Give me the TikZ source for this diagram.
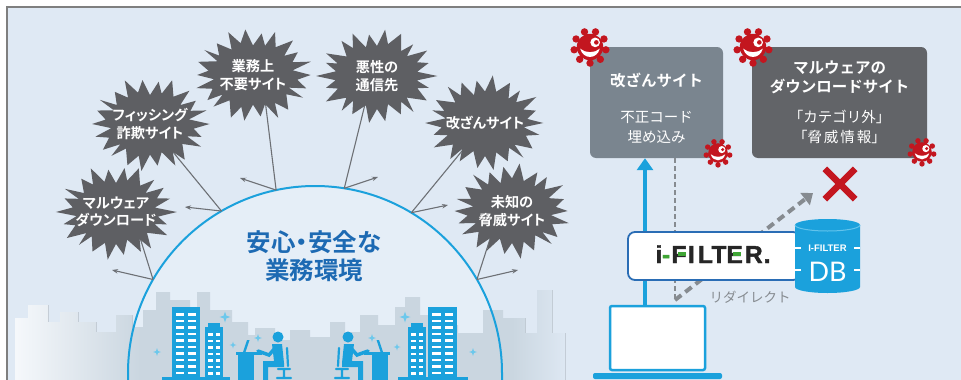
\documentclass[tikz,border=0pt]{standalone}
\usepackage{fontspec}
\setmainfont{Noto Sans CJK JP}[BoldFont={Noto Sans CJK JP Bold}]
\newfontfamily\jpp{Noto Sans CJK JP}[BoldFont={Noto Sans CJK JP Bold},RawFeature=+palt]
\newfontfamily\logofont{Liberation Sans}
\newfontfamily\logoheavy{Liberation Sans Bold}[FakeBold=1.6]
\newfontfamily\dbfont{Lato}
\usetikzlibrary{calc,arrows.meta}

\definecolor{bgc}{HTML}{DFE9F4}
\definecolor{domec}{HTML}{E5EEF7}
\definecolor{framec}{HTML}{7F7F7F}
\definecolor{burstc}{HTML}{5E5F63}
\definecolor{linec}{HTML}{6D7075}
\definecolor{cyanc}{HTML}{1BA1DC}
\definecolor{sparkc}{HTML}{6CC8EC}
\definecolor{safec}{HTML}{1D6AB3}
\definecolor{skyc}{HTML}{CAD6E0}
\definecolor{box1c}{HTML}{7A858F}
\definecolor{box2c}{HTML}{626468}
\definecolor{virusred}{HTML}{C3161F}
\definecolor{ifblue}{HTML}{2A6DB5}
\definecolor{ifgreen}{HTML}{3FA535}
\definecolor{dashc}{HTML}{868B90}
\definecolor{dbedge}{HTML}{62C3EC}

% jagged "explosion" outline with a text node at its centre
\newcommand\burstat[5]{%
  \fill[burstc] plot[samples at={0,...,43}, variable=\k]
    ({#2 + (mod(\k,2)==0 ? 57 : 42)*(1+0.07*sin(\k*97+#4))*cos(\k*360/44)},
     {#3 + (mod(\k,2)==0 ? 45 : 31)*(1+0.07*sin(\k*61+#4))*sin(\k*360/44)}) -- cycle;
  \node[bursttext] (#1) at (#2,#3) {#5};
}

\tikzset{
  virus/.pic={
    \foreach \a in {0,40,...,320}{
      \draw[virusred, line width=2.4] (0,0) -- (\a+10:14);
      \fill[virusred] (\a+10:14) circle (3.2);
    }
    \fill[virusred] (0,0) circle (11.5);
    \fill[white] (-8.5,1.5) .. controls (-6,11) and (6,11) .. (8.5,1.5)
                 .. controls (4,5.5) and (-4,5.5) .. cycle;
    \fill[white] (4.5,-4) circle (4.2);
    \fill[virusred] (5.5,-4) circle (2);
  },
  sparkle/.pic={
    \fill[sparkc] (0,-5) -- (1.2,-1.2) -- (5,0) -- (1.2,1.2) -- (0,5)
                  -- (-1.2,1.2) -- (-5,0) -- (-1.2,-1.2) -- cycle;
  },
  worker/.pic={
    % desk and laptop
    \fill[cyanc] (0,-26) rectangle (16,0);
    \fill[cyanc] (-2,-28) rectangle (24,-25);
    \fill[cyanc] (5,-28) -- (9,-40) -- (11.5,-40) -- (7.5,-28) -- cycle;
    % person
    \fill[cyanc] (40,-43) circle (5.5);
    \fill[cyanc] (34,-36) -- (44,-36) -- (46,-17) -- (46,-13) -- (30,-13)
                 -- (30,0) -- (25,0) -- (25,-19) -- (36,-19) -- cycle;
    \draw[cyanc, line width=3.5, line cap=round] (38,-33) -- (31,-25) -- (20,-29);
    % chair
    \draw[cyanc, line width=2.2, line cap=round]
      (49,-32) -- (50,-14) (40,-11) -- (52,-11) (46,-11) -- (46,-3)
      (39,-2) -- (53,-2);
  }
}

\begin{document}
\begin{tikzpicture}[x=1pt,y=-1pt,
  bursttext/.style={text=white, font=\jpp\bfseries\fontsize{14.2}{17.5}\selectfont,
    align=center, inner sep=0},
  hitline/.style={draw=linec, line width=1.1},
  bounce/.style={draw=linec, line width=1.1, -{Stealth[length=6pt,width=4.5pt]}},
  sitebox/.style={rounded corners=6, inner sep=0},
  titletext/.style={text=white, font=\bfseries\fontsize{15.5}{19}\selectfont,
    align=center, inner sep=0},
  subtext/.style={text=white, font=\fontsize{14.5}{20}\selectfont,
    align=center, inner sep=0},
  logoletter/.style={inner sep=0, anchor=base west, text=black!85,
    font=\logoheavy\fontsize{24.5}{24.5}\selectfont},
  upflow/.style={draw=cyanc, line width=3.5, -{Triangle[length=12pt,width=16pt]}},
  dashthin/.style={draw=dashc, line width=1.6, dash pattern=on 5pt off 3pt},
  dashthick/.style={draw=dashc, line width=4, dash pattern=on 8pt off 5pt,
    -{Triangle[length=10pt,width=15pt]}},
]
\useasboundingbox (0,0) rectangle (961,380);
\clip (0,0) rectangle (961,380);

% frame
\fill[white] (0,0) rectangle (961,380);
\fill[bgc] (8,8) rectangle (962,381);
\draw[framec, line width=2] (7,382) -- (7,7) -- (962,7);

% dome
\coordinate (dc) at (315,373);
\fill[domec] (128,383) -- ($(dc)+(180:187)$) arc[start angle=180, end angle=360, radius=187]
  -- (502,383) -- cycle;

% skyline
\begin{scope}
  \clip \foreach \a/\b/\t in {15/30/318, 28/48/305, 46/62/322, 60/78/312, 76/96/322,
      96/116/332, 116/132/315, 130/145/327, 143/158/310, 156/170/292, 168/190/300,
      190/205/318, 197/210/292, 208/232/310, 230/248/322, 246/262/335, 255/275/328,
      275/290/340, 290/310/330, 310/330/337, 330/345/322, 345/360/332, 360/378/315,
      378/395/325, 395/408/307, 405/420/297, 420/440/315, 440/458/325, 458/485/333,
      483/503/310, 503/525/318, 525/540/333, 537/552/290, 550/565/333, 15/565/345}
    { (\a,\t) rectangle (\b,383) };
  \fill[skyc] (10,280) rectangle (570,383);
  \fill[left color=white!75!bgc, right color=skyc] (10,280) rectangle (140,383);
  \fill[left color=skyc, right color=bgc] (512,280) rectangle (570,383);
\end{scope}

% dome outline
\draw[cyanc, line width=2] (128,383) -- ($(dc)+(180:187)$)
  arc[start angle=180, end angle=360, radius=187] -- (502,383);

% buildings
\foreach \bx/\bt/\bw in {172/307/28, 428/307/29}{
  \fill[cyanc] (\bx,\bt) rectangle (\bx+\bw,381);
  \foreach \r in {0,...,9}{
    \fill[white] (\bx+4,\bt+6+\r*6.5) rectangle (\bx+\bw/2-2,\bt+8.5+\r*6.5);
    \fill[white] (\bx+\bw/2+2,\bt+6+\r*6.5) rectangle (\bx+\bw-4,\bt+8.5+\r*6.5);
  }
}
\foreach \bx in {205,408}{
  \fill[cyanc] (\bx,327) rectangle (\bx+18,381);
  \fill[cyanc] (\bx+3,323) rectangle (\bx+15,328);
  \foreach \r in {0,...,6}{
    \fill[white] (\bx+3,333+\r*6.5) rectangle (\bx+7.5,335.5+\r*6.5);
    \fill[white] (\bx+10.5,333+\r*6.5) rectangle (\bx+15,335.5+\r*6.5);
  }
}
\fill[cyanc] (162,377) rectangle (230,381);
\fill[cyanc] (398,377) rectangle (468,381);

% people at desks
\pic (w1) at (238,380) {worker};
\pic[xscale=-1] (w2) at (388,380) {worker};

% sparkles
\foreach \sx/\sy/\ss in {225/317/1.1, 157/352/0.8, 233/345/0.7, 258/338/0.8,
    405/317/1.1, 473/352/0.8, 372/338/0.8, 397/347/0.7}
  \pic[scale=\ss] at (\sx,\sy) {sparkle};

% centre message
\node[text=safec, font=\jpp\bfseries\fontsize{24.5}{28.5}\selectfont, align=center, inner sep=0]
  (safe) at (314,256) {安心・安全な\\業務環境};

% points where threats hit the dome
\coordinate (h1) at ($(dc)+(258:187)$);
\coordinate (h2) at ($(dc)+(240:187)$);
\coordinate (h3) at ($(dc)+(210:187)$);
\coordinate (h4) at ($(dc)+(279:187)$);
\coordinate (h5) at ($(dc)+(301:187)$);
\coordinate (h6) at ($(dc)+(330:187)$);
\coordinate (r1) at (240,178);
\coordinate (r2) at (185,207);
\coordinate (r3) at (112,270);
\coordinate (r4) at (378,177);
\coordinate (r5) at (448,205);
\coordinate (r6) at (518,270);

\node[inner sep=0] (b1) at (253,75) {};
\node[inner sep=0] (b2) at (150,124) {};
\node[inner sep=0] (b3) at (116,212) {};
\node[inner sep=0] (b4) at (377,76) {};
\node[inner sep=0] (b5) at (485,123) {};
\node[inner sep=0] (b6) at (512,211) {};

\draw[hitline] ([xshift=9pt]b1.center) -- (h1);
\draw[hitline] (b2.center) -- (h2);
\draw[hitline] ([xshift=16pt]b3.center) -- (h3);
\draw[hitline] ([xshift=-5pt]b4.center) -- (h4);
\draw[hitline] (b5.center) -- (h5);
\draw[hitline] ([xshift=-13pt]b6.center) -- (h6);
\foreach \i in {1,...,6} \draw[bounce] (h\i) -- (r\i);

% threats
\burstat{t1}{253}{75}{10}{業務上\\不要サイト}
\burstat{t2}{150}{124}{40}{フィッシング\\詐欺サイト}
\burstat{t3}{116}{212}{75}{マルウェア\\ダウンロード}
\burstat{t4}{377}{76}{120}{悪性の\\通信先}
\burstat{t5}{485}{123}{160}{改ざんサイト}
\burstat{t6}{512}{211}{200}{未知の\\脅威サイト}

% ---------- right side ----------
\coordinate (ux) at (645,0);
\coordinate (dx) at (675,0);
\coordinate (rd) at (675,300);
\coordinate (xm) at (813,193);

\node[sitebox, fill=box1c, minimum width=133, minimum height=111] (site1) at (656.5,102.5) {};
\node[sitebox, fill=box2c, minimum width=175, minimum height=111] (site2) at (839.5,102.5) {};
\node[titletext] (s1t) at (656.5,80) {改ざんサイト};
\node[subtext] (s1s) at (656.5,127) {不正コード\\埋め込み};
\node[titletext] (s2t) at (839.5,77.5) {マルウェアの\\ダウンロードサイト};
\node[subtext] (s2s) at (839.5,127) {「カテゴリ外」\\「脅\hspace{2pt}威\hspace{2pt}情\hspace{2pt}報」};

\pic[scale=1.15] (v1) at (590,47) {virus};
\pic[scale=1.15] (v2) at (753,47) {virus};
\pic[scale=0.85] (v3) at (718,153) {virus};
\pic[scale=0.85] (v4) at (922,152) {virus};

\node[minimum size=30, inner sep=0] (xmark) at (840,184) {};
\draw[virusred, line width=6.5] (xmark.north west) -- (xmark.south east)
  (xmark.north east) -- (xmark.south west);

% laptop
\node[fill=white, draw=cyanc, line width=2.5, rounded corners=2, minimum width=95,
  minimum height=64, inner sep=0] (lap) at (657.5,338) {};
\node[fill=cyanc, rounded corners=2, minimum width=129, minimum height=6, inner sep=0]
  (lapb) at (657.5,376) {};

% traffic
\draw[upflow] (lap.north -| ux) -- (site1.south -| ux);
\draw[dashthin] (site1.south -| dx) -- (rd);
\draw[dashthick] (rd) -- (xm);

% filter with its logotype, set letter by letter
\node[fill=white, draw=ifblue, line width=1.8, rounded corners=7, minimum width=172,
  minimum height=48, inner sep=0] (ifilter) at (714,256) {};
\node[logoletter] (lg1) at (655.3,263) {i};
\node[logoletter, text=ifgreen] (lg2) at (661.8,263) {-};
\node[logoletter] (lg3) at (671.3,263) {F};
\node[logoletter] (lg4) at (687.8,263) {I};
\node[logoletter] (lg5) at (697.8,263) {L};
\node[logoletter] (lg6) at (711.3,263) {T};
\node[logoletter] (lg7) at (726.3,263) {E};
\node[logoletter] (lg8) at (744.8,263) {R};
\node[logoletter] (lg9) at (763.5,263) {.};
\fill[ifgreen] (678.3,251.6) rectangle (686.2,256.0);
\fill[ifgreen] (733.3,251.6) rectangle (741.4,256.0);

% database
\fill[cyanc] (860,225) arc[start angle=0, end angle=-180, x radius=32.5, y radius=6]
  -- (795,287) arc[start angle=180, end angle=0, x radius=32.5, y radius=6] -- cycle;
\draw[dbedge, line width=1] (795,225) arc[start angle=180, end angle=0, x radius=32.5, y radius=6];
\foreach \ny in {248,270}
  \draw[white, line width=1.3] (795,\ny) -- (801,\ny) (854,\ny) -- (860,\ny);
\node[text=white, inner sep=0, font=\logofont\bfseries\fontsize{9.5}{10}\selectfont]
  (dbl) at (827.5,248) {I-FILTER};
\node[text=white, inner sep=0, font=\dbfont\fontsize{27}{27}\selectfont]
  (db) at (827.5,272) {DB};

\node[text=dashc, inner sep=0, font=\fontsize{13.5}{16}\selectfont]
  (rdl) at (750,297) {リダイレクト};
\end{tikzpicture}
\end{document}
